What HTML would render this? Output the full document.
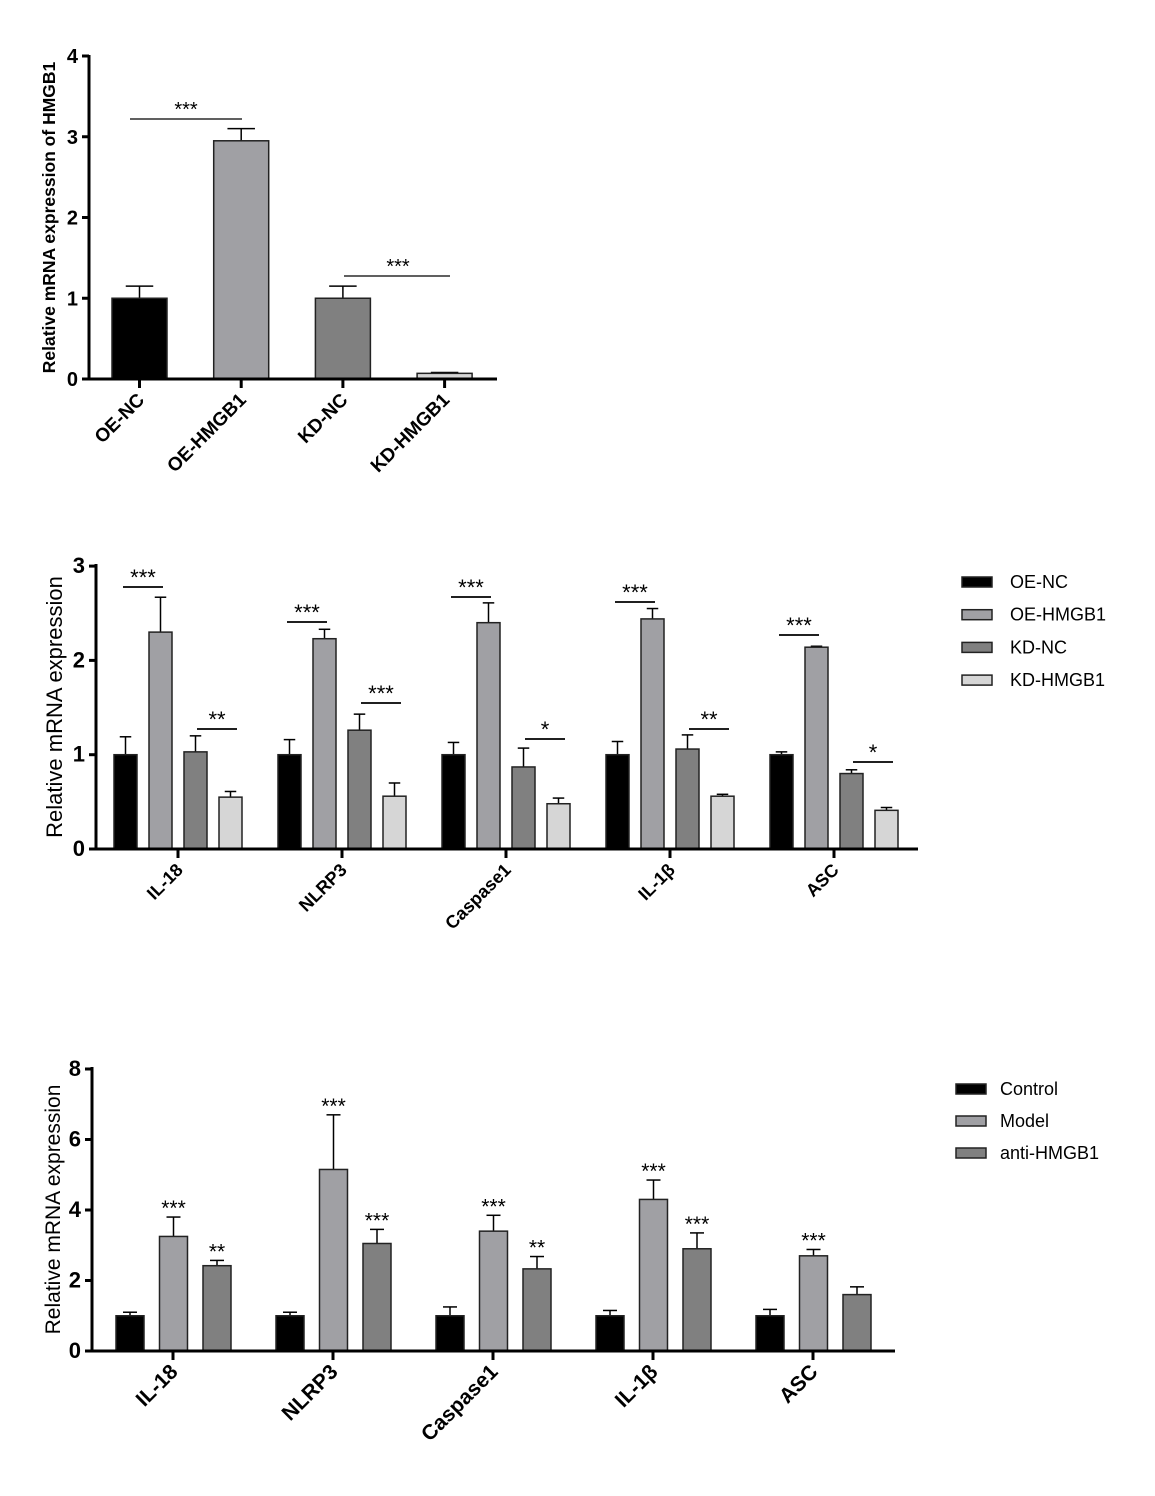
<!DOCTYPE html>
<html><head><meta charset="utf-8"><style>
html,body{margin:0;padding:0;background:#fff;}
svg{display:block;font-family:"Liberation Sans",Arial,sans-serif;}
</style></head><body>
<svg id="s" width="1155" height="1496" xmlns="http://www.w3.org/2000/svg"></svg>
<script>
var s=document.getElementById('s');var o='';
function L(x1,y1,x2,y2,w){o+='<line x1="'+x1+'" y1="'+y1+'" x2="'+x2+'" y2="'+y2+'" stroke="#000" stroke-width="'+(w||1.5)+'"/>';}
function R(x,y,w,h,f){o+='<rect x="'+x+'" y="'+y+'" width="'+w+'" height="'+h+'" fill="'+f+'" stroke="#222" stroke-width="1.5"/>';}
function T(x,y,t,sz,wt,anc,rot){o+='<text x="'+x+'" y="'+y+'" font-size="'+sz+'" font-weight="'+(wt||'normal')+'" text-anchor="'+(anc||'start')+'"'+(rot?' transform="rotate('+rot+' '+x+' '+y+')"':'')+'>'+t+'</text>';}
function chart(c){
 var y0=c.y0,sc=c.sc;
 c.groups.forEach(function(g,gi){
  g.v.forEach(function(v,i){
   var x=c.bx(gi,i),w=c.bw,top=y0-v[0]*sc,et=y0-(v[0]+v[1])*sc;
   L(x+w/2,top,x+w/2,et,1.5);L(x+w/2-w*0.25,et,x+w/2+w*0.25,et,1.5);
   R(x,top,w,v[0]*sc,c.col[g.ci!==undefined?g.ci:i]);
  });
 });
 L(c.ax,c.ytop-1,c.ax,y0+1,3);L(c.ax-1,y0,c.xend,y0,3);
 c.ticks.forEach(function(t){var y=y0-t*sc;L(c.ax-7,y,c.ax,y,3);T(c.ax-11,y+7,t,c.ksz,'bold','end');});
 c.groups.forEach(function(g,gi){var x=c.tx(gi);L(x,y0,x,y0+9,3);
  T(x+c.lx,y0+c.ly,g.n,c.lsz,'bold','end',-45);});
 T(c.titx,(c.ytop+y0)/2,c.title,c.tsz,c.twt,'middle',-90);
}
var cols=['#000','#a0a0a4','#808080','#d6d6d6'];
chart({y0:379,sc:80.75,ax:89,ytop:56,xend:497,bw:55,col:cols,
 groups:[{n:'OE-NC',v:[[1,.15]],ci:0},{n:'OE-HMGB1',v:[[2.95,.15]],ci:1},{n:'KD-NC',v:[[1,.15]],ci:2},{n:'KD-HMGB1',v:[[.07,.01]],ci:3}],
 bx:function(g,i){return 112+g*101.7;},tx:function(g){return 139.5+g*101.7;},lx:6,ly:22,lsz:19,ksz:20,
 ticks:[0,1,2,3,4],title:'Relative mRNA expression of HMGB1',titx:55,tsz:17.5,twt:'bold'});
L(130,119,242,119,1.2);T(186,116,'***',20,'normal','middle');
L(344,276,450,276,1.2);T(398,273,'***',20,'normal','middle');
var g2=[['IL-18',[[1,.19],[2.3,.37],[1.03,.17],[.55,.06]]],['NLRP3',[[1,.16],[2.23,.1],[1.26,.17],[.56,.14]]],['Caspase1',[[1,.13],[2.4,.21],[.87,.2],[.48,.06]]],['IL-1β',[[1,.14],[2.44,.11],[1.06,.15],[.56,.02]]],['ASC',[[1,.03],[2.14,.01],[.8,.04],[.41,.03]]]];
chart({y0:849,sc:94.3,ax:96,ytop:565,xend:918,bw:23,col:cols,
 groups:g2.map(function(a){return {n:a[0],v:a[1]};}),
 bx:function(g,i){return 114+g*164+i*35;},tx:function(g){return 178+g*164;},lx:6,ly:22,lsz:18,ksz:22,
 ticks:[0,1,2,3],title:'Relative mRNA expression',titx:62,tsz:22,twt:'normal'});
var sig2=[[587,'***',729,'**'],[622,'***',703,'***'],[597,'***',739,'*'],[602,'***',729,'**'],[635,'***',762,'*']];
sig2.forEach(function(a,g){var b=114+g*164;L(b+9,a[0],b+49,a[0],1.8);T(b+29,a[0]-2,a[1],22,'normal','middle');
 L(b+83,a[2],b+123,a[2],1.8);T(b+103,a[2]-2,a[3],22,'normal','middle');});
var lg=['OE-NC','OE-HMGB1','KD-NC','KD-HMGB1'];
lg.forEach(function(t,i){var y=577+i*32.7;R(962,y,30,10,cols[i]);T(1010,y+11,t,18);});
var g3=[['IL-18',[[1,.1],[3.25,.55],[2.42,.15]],['','***','**']],['NLRP3',[[1,.1],[5.15,1.55],[3.05,.4]],['','***','***']],['Caspase1',[[1,.25],[3.4,.45],[2.33,.35]],['','***','**']],['IL-1β',[[1,.15],[4.3,.55],[2.9,.45]],['','***','***']],['ASC',[[1,.18],[2.7,.18],[1.6,.22]],['','***','']]];
chart({y0:1351,sc:35.25,ax:92,ytop:1068,xend:895,bw:28,col:cols,
 groups:g3.map(function(a){return {n:a[0],v:a[1]};}),
 bx:function(g,i){return 116+g*160+i*43.5;},tx:function(g){return 173+g*160;},lx:6,ly:22,lsz:21,ksz:22,
 ticks:[0,2,4,6,8],title:'Relative mRNA expression',titx:60,tsz:21,twt:'normal'});
g3.forEach(function(a,g){a[1].forEach(function(v,i){if(a[2][i]){var x=116+g*160+i*43.5+14,y=1351-(v[0]+v[1])*35.25-2;T(x,y,a[2][i],21,'normal','middle');}});});
var lg3=['Control','Model','anti-HMGB1'];
lg3.forEach(function(t,i){var y=1084+i*32;R(956,y,30,10,cols[i]);T(1000,y+11,t,18);});
s.innerHTML=o;
</script>
</body></html>
